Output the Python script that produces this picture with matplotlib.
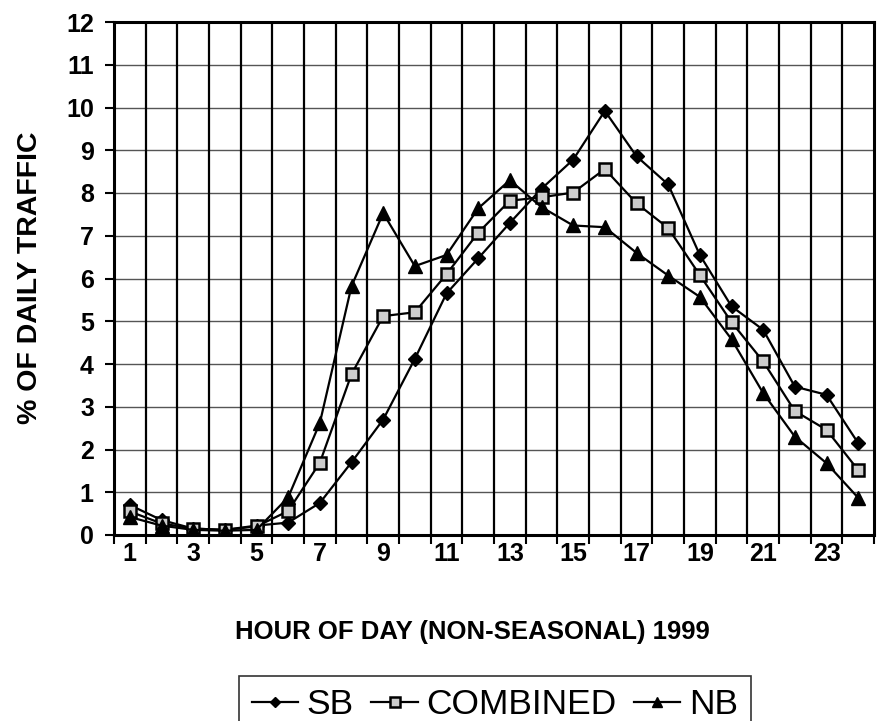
import matplotlib
matplotlib.use("Agg")
import matplotlib.pyplot as plt

hours = list(range(1, 25))
sb = [0.7, 0.35, 0.15, 0.12, 0.22, 0.29, 0.75, 1.7, 2.7, 4.12, 5.65, 6.47, 7.3, 8.1, 8.78, 9.92,
      8.86, 8.2, 6.55, 5.35, 4.8, 3.47, 3.28, 2.15]
combined = [0.55, 0.27, 0.15, 0.12, 0.2, 0.56, 1.69, 3.76, 5.12, 5.21, 6.1, 7.07, 7.82, 7.9, 8.01, 8.56,
            7.76, 7.18, 6.08, 4.98, 4.06, 2.9, 2.46, 1.52]
nb = [0.42, 0.22, 0.12, 0.1, 0.12, 0.88, 2.62, 5.82, 7.53, 6.29, 6.55, 7.64, 8.3, 7.67, 7.24, 7.2,
      6.6, 6.07, 5.57, 4.58, 3.32, 2.3, 1.68, 0.87]
xtick_labels = ["1", "3", "5", "7", "9", "11", "13", "15", "17", "19", "21", "23"]

plt.rcParams['font.family'] = ['Liberation Sans', 'DejaVu Sans']

W, H = 880, 721
fig = plt.figure(figsize=(W / 100, H / 100), dpi=100)
ax = fig.add_axes([114 / W, (H - 535) / H, 760 / W, 513 / H])

ax.plot(hours, sb, color='black', lw=1.6, marker='D', ms=7, mfc='black', mec='black', label='SB', zorder=5)
ax.plot(hours, combined, color='black', lw=1.6, marker='s', ms=9, mfc='#cccccc', mec='black', mew=1.8,
        label='COMBINED', zorder=5)
ax.plot(hours, nb, color='black', lw=1.6, marker='^', ms=10, mfc='black', mec='black', label='NB', zorder=5)

ax.set_xlim(0.5, 24.5)
ax.set_ylim(0, 12)

# horizontal gridlines
ax.set_yticks(range(0, 13))
ax.set_yticklabels([str(i) for i in range(0, 13)], fontsize=18, fontweight='bold')
for yv in range(1, 12):
    ax.axhline(yv, color='#555555', lw=1.0, zorder=1)
# vertical gridlines at category boundaries
for xb in range(1, 24):
    ax.axvline(xb + 0.5, color='black', lw=1.6, zorder=1)

ax.set_xticks([0.5 + i for i in range(0, 25)], minor=True)
ax.set_xticks([int(l) for l in xtick_labels])
ax.set_xticklabels(xtick_labels, fontsize=18, fontweight='bold')
ax.tick_params(axis='x', which='major', length=0, pad=5)
ax.tick_params(axis='x', which='minor', length=6.5, width=1.5, direction='out')
ax.tick_params(axis='y', length=6.5, width=1.5, direction='out', pad=8)

for s in ax.spines.values():
    s.set_linewidth(2.2)
    s.set_color('black')

fig.text(472 / W, 1 - 632 / H, 'HOUR OF DAY (NON-SEASONAL) 1999', fontsize=18.5, fontweight='bold',
         ha='center', va='center')
fig.text(30 / W, 1 - 278 / H, '% OF DAILY TRAFFIC', fontsize=20.5, fontweight='bold',
         ha='center', va='center', rotation=90)

leg = fig.legend(loc='upper center', bbox_to_anchor=(495 / W, 1 - 676 / H), ncol=3,
                 fontsize=25.5, frameon=True, fancybox=False, edgecolor='black', handlelength=1.3,
                 handletextpad=0.25, columnspacing=0.5, borderpad=0.35, borderaxespad=0,
                 markerscale=0.75)
leg.get_frame().set_linewidth(1.2)

fig.savefig('out.png', dpi=100, facecolor='white')
